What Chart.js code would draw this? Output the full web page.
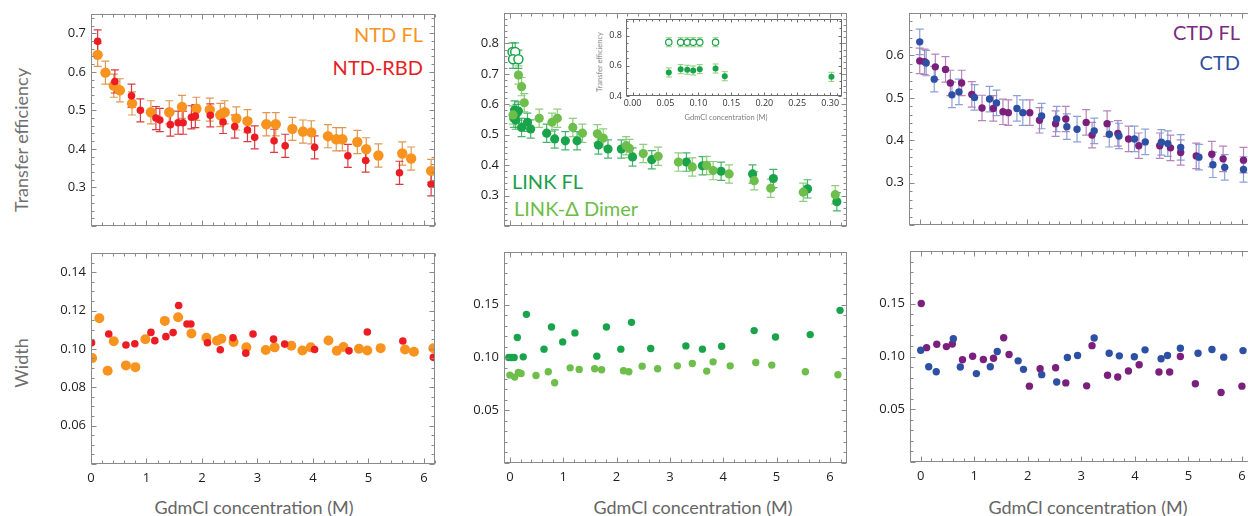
<!DOCTYPE html>
<html>
<head>
<meta charset="utf-8">
<script src="https://cdn.jsdelivr.net/npm/chart.js@4.4.1/dist/chart.umd.min.js"></script>
<style>
  html, body { margin: 0; padding: 0; background: #fff; }
  body { width: 1248px; height: 516px; overflow: hidden; position: relative; font-family: Lato, "Open Sans", sans-serif; }
  canvas { position: absolute; }
  .lbl { position: absolute; white-space: nowrap; line-height: 1; }
  .ytitle { font-size: 18px; color: #707070; transform: translate(-50%, -50%) rotate(-90deg); }
  .xtitle { font-size: 18px; color: #666; transform: translate(-50%, -50%); }
  .key { font-size: 20px; transform: translateY(-50%); }
  .small { font-size: 7.5px; color: #808080; }
</style>
</head>
<body>
<div class="lbl ytitle" style="left:21px; top:140px;">Transfer efficiency</div>
<div class="lbl ytitle" style="left:21px; top:363px;">Width</div>
<div class="lbl xtitle" style="left:254px; top:507px;">GdmCl concentration (M)</div>
<div class="lbl xtitle" style="left:693px; top:507px;">GdmCl concentration (M)</div>
<div class="lbl xtitle" style="left:1088px; top:507px;">GdmCl concentration (M)</div>

<div class="lbl key" style="right:825px; top:34px; color:#F7941D;">NTD FL</div>
<div class="lbl key" style="right:825px; top:67px; color:#E31E24;">NTD-RBD</div>
<div class="lbl key" style="left:512px; top:181px; color:#1A9F4A;">LINK FL</div>
<div class="lbl key" style="left:514px; top:208px; color:#6CBD45;">LINK-Δ Dimer</div>
<div class="lbl key" style="right:8px; top:32px; color:#7B2A80;">CTD FL</div>
<div class="lbl key" style="right:8px; top:62px; color:#2E50A4;">CTD</div>

<script>
// ---------- tick label values ----------
const xTicks = [0, 1, 2, 3, 4, 5, 6];
const teTicksNtd = [0.3, 0.4, 0.5, 0.6, 0.7];
const teTicksLink = [0.3, 0.4, 0.5, 0.6, 0.7, 0.8];
const teTicksCtd = [0.3, 0.4, 0.5, 0.6];
const wTicksNtd = [0.06, 0.08, 0.10, 0.12, 0.14];
const wTicksLinkCtd = [0.05, 0.10, 0.15];
const insetXTicks = [0, 0.05, 0.10, 0.15, 0.20, 0.25, 0.30];
const insetYTicks = [0.4, 0.6, 0.8];

// ---------- NTD: transfer efficiency ----------
const ntdFlTeX = [0.12, 0.26, 0.41, 0.52, 0.74, 1.08, 1.41, 1.64, 1.90, 2.14, 2.33, 2.41, 2.62, 2.82, 3.16, 3.33, 3.63, 3.82, 3.97, 4.27, 4.42, 4.53, 4.80, 4.96, 5.18, 5.61, 5.77, 6.13];
const ntdFlTeY = [0.644, 0.598, 0.564, 0.552, 0.518, 0.495, 0.495, 0.509, 0.504, 0.502, 0.488, 0.495, 0.479, 0.472, 0.464, 0.464, 0.452, 0.445, 0.443, 0.433, 0.425, 0.425, 0.418, 0.399, 0.383, 0.388, 0.375, 0.343];
const ntdRbdTeX = [0.12, 0.43, 0.73, 0.89, 1.17, 1.24, 1.43, 1.57, 1.66, 1.81, 1.88, 2.15, 2.38, 2.59, 2.82, 2.95, 3.30, 3.50, 4.03, 4.63, 4.95, 5.56, 6.13];
const ntdRbdTeY = [0.679, 0.575, 0.538, 0.500, 0.480, 0.475, 0.463, 0.468, 0.468, 0.482, 0.485, 0.487, 0.470, 0.458, 0.449, 0.430, 0.421, 0.408, 0.404, 0.382, 0.370, 0.338, 0.308];

// ---------- NTD: width ----------
const ntdFlWX = [0.02, 0.15, 0.30, 0.41, 0.63, 0.80, 0.98, 1.33, 1.57, 1.81, 2.08, 2.27, 2.35, 2.57, 2.80, 3.15, 3.31, 3.61, 3.81, 3.96, 4.28, 4.43, 4.55, 4.83, 4.98, 5.22, 5.66, 5.82, 6.17];
const ntdFlWY = [0.0952, 0.1160, 0.0886, 0.1040, 0.0914, 0.0905, 0.1050, 0.1146, 0.1165, 0.1080, 0.1058, 0.1043, 0.1053, 0.1036, 0.1008, 0.0994, 0.1008, 0.1017, 0.0992, 0.1008, 0.1044, 0.0990, 0.1010, 0.1001, 0.0992, 0.1004, 0.0997, 0.0985, 0.1003];
const ntdRbdWX = [0.01, 0.32, 0.63, 0.79, 1.08, 1.15, 1.35, 1.48, 1.58, 1.73, 1.80, 2.10, 2.33, 2.56, 2.79, 2.92, 3.29, 3.49, 4.03, 4.65, 4.98, 5.62, 6.17];
const ntdRbdWY = [0.1032, 0.1078, 0.1020, 0.1027, 0.1086, 0.1043, 0.1064, 0.1085, 0.1226, 0.1130, 0.1130, 0.1032, 0.0996, 0.1058, 0.0978, 0.1078, 0.1051, 0.1025, 0.0997, 0.0990, 0.1088, 0.1041, 0.0956];

// ---------- LINK: transfer efficiency ----------
const linkFlTeX = [0.075, 0.09, 0.11, 0.125, 0.16, 0.22, 0.33, 0.39, 0.69, 0.84, 1.04, 1.26, 1.66, 1.84, 2.09, 2.30, 2.66, 3.31, 3.61, 3.96, 4.55, 4.94, 5.58, 6.13];
const linkFlTeY = [0.554, 0.581, 0.548, 0.570, 0.578, 0.524, 0.541, 0.519, 0.505, 0.486, 0.480, 0.480, 0.466, 0.453, 0.453, 0.427, 0.418, 0.410, 0.398, 0.380, 0.371, 0.356, 0.322, 0.280];
const linkDimerTeX = [0.06, 0.16, 0.22, 0.27, 0.55, 0.79, 0.89, 1.18, 1.36, 1.64, 1.75, 2.18, 2.24, 2.50, 2.78, 3.16, 3.42, 3.69, 3.81, 4.11, 4.58, 4.89, 5.50, 6.10];
const linkDimerTeY = [0.565, 0.696, 0.658, 0.605, 0.554, 0.541, 0.554, 0.524, 0.505, 0.503, 0.489, 0.464, 0.455, 0.438, 0.429, 0.410, 0.394, 0.399, 0.382, 0.371, 0.349, 0.324, 0.311, 0.303];
const linkOpenTeX = [0.05, 0.10, 0.06, 0.16];
const linkOpenTeY = [0.772, 0.772, 0.748, 0.748];

// ---------- LINK: width ----------
const linkFlWX = [-0.02, 0.03, 0.08, 0.14, 0.25, 0.31, 0.64, 0.78, 0.99, 1.22, 1.63, 1.81, 2.08, 2.28, 2.64, 3.30, 3.61, 3.97, 4.58, 4.98, 5.63, 6.19];
const linkFlWY = [0.100, 0.100, 0.100, 0.119, 0.1006, 0.1409, 0.1079, 0.1289, 0.1148, 0.1233, 0.1013, 0.1289, 0.1079, 0.1333, 0.1085, 0.1110, 0.1079, 0.1107, 0.1255, 0.1195, 0.1217, 0.1447];
const linkDimerWX = [0.00, 0.09, 0.16, 0.21, 0.49, 0.72, 0.84, 1.13, 1.30, 1.59, 1.72, 2.13, 2.23, 2.48, 2.77, 3.14, 3.42, 3.69, 3.81, 4.13, 4.61, 4.91, 5.54, 6.15];
const linkDimerWY = [0.0833, 0.0814, 0.0858, 0.0849, 0.0830, 0.0865, 0.0761, 0.0902, 0.0887, 0.0893, 0.0884, 0.0874, 0.0865, 0.0918, 0.0893, 0.0921, 0.0943, 0.0871, 0.0959, 0.0921, 0.0953, 0.0928, 0.0865, 0.0836];

// ---------- LINK inset (low denaturant) ----------
const insetOpenX = [0.055, 0.073, 0.083, 0.092, 0.102, 0.126];
const insetOpenY = [0.756, 0.756, 0.756, 0.756, 0.756, 0.756];
const insetFillX = [0.055, 0.073, 0.083, 0.092, 0.102, 0.126, 0.140, 0.302];
const insetFillY = [0.556, 0.578, 0.574, 0.569, 0.578, 0.582, 0.531, 0.527];

// ---------- CTD: transfer efficiency ----------
const ctdFlTeX = [0.00, 0.09, 0.29, 0.48, 0.57, 0.78, 0.97, 1.16, 1.37, 1.55, 1.65, 2.05, 2.23, 2.53, 2.72, 3.10, 3.21, 3.49, 3.69, 3.89, 4.08, 4.47, 4.67, 4.86, 5.15, 5.44, 5.65, 6.03];
const ctdFlTeY = [0.587, 0.585, 0.573, 0.567, 0.535, 0.535, 0.508, 0.476, 0.475, 0.467, 0.465, 0.465, 0.447, 0.439, 0.450, 0.442, 0.412, 0.439, 0.416, 0.403, 0.387, 0.387, 0.382, 0.371, 0.363, 0.367, 0.356, 0.353];
const ctdTeX = [0.00, 0.12, 0.27, 0.60, 0.73, 1.02, 1.30, 1.43, 1.81, 1.92, 2.27, 2.55, 2.74, 2.93, 3.25, 3.53, 3.71, 4.00, 4.20, 4.50, 4.62, 4.86, 5.20, 5.46, 5.68, 6.03];
const ctdTeY = [0.632, 0.582, 0.544, 0.507, 0.514, 0.501, 0.497, 0.488, 0.475, 0.465, 0.457, 0.450, 0.432, 0.426, 0.422, 0.414, 0.410, 0.403, 0.396, 0.395, 0.392, 0.383, 0.360, 0.342, 0.336, 0.331];

// ---------- CTD: width ----------
const ctdFlWX = [0.01, 0.11, 0.30, 0.48, 0.59, 0.78, 0.97, 1.17, 1.36, 1.55, 1.65, 2.03, 2.23, 2.52, 2.71, 3.10, 3.20, 3.49, 3.68, 3.88, 4.08, 4.45, 4.65, 4.85, 5.13, 5.61, 6.00];
const ctdFlWY = [0.1503, 0.1084, 0.1116, 0.1094, 0.1119, 0.0969, 0.1003, 0.0972, 0.0984, 0.1178, 0.1019, 0.0719, 0.0884, 0.0894, 0.0750, 0.0722, 0.1103, 0.0822, 0.0806, 0.0863, 0.0922, 0.0853, 0.0853, 0.1000, 0.0741, 0.0659, 0.0719];
const ctdWX = [0.00, 0.15, 0.29, 0.61, 0.74, 1.04, 1.30, 1.43, 1.82, 1.92, 2.26, 2.54, 2.74, 2.93, 3.24, 3.52, 3.71, 3.99, 4.19, 4.49, 4.61, 4.85, 5.18, 5.44, 5.66, 6.02];
const ctdWY = [0.1059, 0.0903, 0.0856, 0.1169, 0.0900, 0.0838, 0.0903, 0.1047, 0.0959, 0.0878, 0.0828, 0.0759, 0.0991, 0.1010, 0.1175, 0.1031, 0.1006, 0.0997, 0.1063, 0.0978, 0.1009, 0.1078, 0.1031, 0.1066, 0.0994, 0.1056];

// Error bar half-width shared by the transfer-efficiency series
const teErr = 0.03;

// ---------- colours ----------
const C = {
  orange: '#F7931E', orangeErr: 'rgba(222,140,62,0.9)',
  red: '#EC1C24', redErr: 'rgba(214,38,46,0.9)',
  dkGreen: '#19A34A', dkGreenErr: 'rgba(40,166,82,0.85)',
  ltGreen: '#6DBE4B', ltGreenErr: 'rgba(130,200,110,0.9)',
  purple: '#7B1F7D', purpleErr: 'rgba(170,110,175,0.85)',
  blue: '#2E50A4', blueErr: 'rgba(120,145,205,0.85)',
  frame: '#8a8a8a'
};

const pts = (xs, ys) => xs.map((x, i) => ({ x, y: ys[i] }));

// Frame around the plot area with inward major/minor ticks on all four sides
const frameTicks = {
  id: 'frameTicks',
  beforeDraw(chart, args, o) {
    if (!o.fill) return;
    const a = chart.chartArea, ctx = chart.ctx;
    ctx.save(); ctx.fillStyle = o.fill;
    ctx.fillRect(a.left, a.top, a.right - a.left, a.bottom - a.top);
    ctx.restore();
  },
  afterDraw(chart, args, o) {
    const { ctx, chartArea: a, scales } = chart;
    ctx.save();
    ctx.strokeStyle = o.color; ctx.lineWidth = 1;
    const L = Math.round(a.left) + 0.5, R = Math.round(a.right) - 0.5;
    const T = Math.round(a.top) + 0.5, B = Math.round(a.bottom) - 0.5;
    ctx.strokeRect(L, T, R - L, B - T);
    const seg = (x1, y1, x2, y2) => { ctx.moveTo(x1, y1); ctx.lineTo(x2, y2); };
    ctx.beginPath();
    const walk = (scale, major, minor, horiz) => {
      const n0 = Math.ceil(scale.min / minor - 1e-6), n1 = Math.floor(scale.max / minor + 1e-6);
      for (let i = n0; i <= n1; i++) {
        const v = i * minor, r = v / major;
        const len = Math.abs(r - Math.round(r)) < 1e-6 ? o.major : o.minor;
        const p = Math.round(scale.getPixelForValue(v)) + 0.5;
        if (horiz) { seg(p, B, p, B - len); seg(p, T, p, T + len); }
        else { seg(L, p, L + len, p); seg(R, p, R - len, p); }
      }
    };
    walk(scales.x, o.xMajor, o.xMinor, true);
    walk(scales.y, o.yMajor, o.yMinor, false);
    ctx.stroke();
    ctx.restore();
  }
};

// Vertical error bars with caps, drawn under the markers
const errorBars = {
  id: 'errorBars',
  beforeDatasetsDraw(chart) {
    const { ctx, chartArea: a, scales: { x, y } } = chart;
    ctx.save();
    ctx.beginPath(); ctx.rect(a.left, a.top, a.right - a.left, a.bottom - a.top); ctx.clip();
    chart.data.datasets.slice().reverse().forEach(ds => {
      if (!ds.yErr) return;
      ctx.strokeStyle = ds.errColor; ctx.lineWidth = ds.errWidth || 1.2;
      const cw = ds.capW || 4;
      ds.data.forEach(p => {
        const px = x.getPixelForValue(p.x);
        const y1 = y.getPixelForValue(p.y + ds.yErr), y2 = y.getPixelForValue(p.y - ds.yErr);
        ctx.beginPath();
        ctx.moveTo(px, y1); ctx.lineTo(px, y2);
        ctx.moveTo(px - cw, y1); ctx.lineTo(px + cw, y1);
        ctx.moveTo(px - cw, y2); ctx.lineTo(px + cw, y2);
        ctx.stroke();
      });
    });
    ctx.restore();
  }
};

function series(xs, ys, color, r, err, errColor, extra) {
  return Object.assign({
    data: pts(xs, ys), backgroundColor: color, borderColor: color, borderWidth: 0,
    pointRadius: r, pointHoverRadius: r, clip: 0,
    yErr: err || 0, errColor: errColor
  }, extra || {});
}

// Place a canvas so its plot area lands on `area`, then build the chart
function panel(p) {
  const L = p.L ?? 46, T = p.T ?? 12, R = p.R ?? 16, B = p.B ?? 28;
  const cv = document.createElement('canvas');
  const w = (p.area.right - p.area.left) + L + R, h = (p.area.bottom - p.area.top) + T + B;
  cv.width = w; cv.height = h;
  cv.style.left = (p.area.left - L) + 'px'; cv.style.top = (p.area.top - T) + 'px';
  cv.style.width = w + 'px'; cv.style.height = h + 'px';
  document.body.appendChild(cv);
  const font = { family: p.tickFamily || '"Open Sans", Lato, sans-serif', size: p.tickSize || 13 };
  return new Chart(cv, {
    type: 'scatter',
    data: { datasets: p.datasets },
    options: {
      responsive: false, animation: false, events: [], devicePixelRatio: 1,
      layout: { padding: { left: 0, top: T, right: R, bottom: 0 } },
      plugins: {
        legend: { display: false }, tooltip: { enabled: false },
        frameTicks: Object.assign({ color: C.frame, major: 5, minor: 3 }, p.frame)
      },
      scales: {
        x: {
          type: 'linear', min: p.xMin, max: p.xMax,
          grid: { display: false, drawTicks: false }, border: { display: false },
          ticks: { display: p.showX !== false, padding: p.xPad ?? 6, font, color: p.tickColor || '#1e1e1e',
                   maxRotation: 0, autoSkip: false, callback: v => Number(v).toFixed(p.xDigits ?? 0) },
          afterBuildTicks: s => { s.ticks = p.xTicks.map(v => ({ value: v })); },
          afterFit: s => { s.height = B; s.paddingLeft = 0; s.paddingRight = 0; }
        },
        y: {
          type: 'linear', min: p.yMin, max: p.yMax,
          grid: { display: false, drawTicks: false }, border: { display: false },
          ticks: { padding: p.yPad ?? 5, font, color: p.tickColor || '#1e1e1e', autoSkip: false,
                   callback: v => Number(v).toFixed(p.yDigits ?? 1) },
          afterBuildTicks: s => { s.ticks = p.yTicks.map(v => ({ value: v })); },
          afterFit: s => { s.width = L; s.paddingTop = 0; s.paddingBottom = 0; }
        }
      }
    },
    plugins: [frameTicks, errorBars]
  });
}

// ---- NTD column ----
panel({
  area: { left: 91, top: 14, right: 435, bottom: 226 },
  xMin: 0, xMax: 6.2, yMin: 0.2, yMax: 0.75, xTicks, yTicks: teTicksNtd, yDigits: 1, showX: false,
  frame: { xMajor: 1, xMinor: 0.2, yMajor: 0.1, yMinor: 0.02 },
  datasets: [
    series(ntdRbdTeX, ntdRbdTeY, C.red, 3.8, teErr, C.redErr),
    series(ntdFlTeX, ntdFlTeY, C.orange, 5.2, teErr, C.orangeErr)
  ]
});
panel({
  area: { left: 91, top: 253, right: 435, bottom: 464 },
  xMin: 0, xMax: 6.2, yMin: 0.04, yMax: 0.15, xTicks, yTicks: wTicksNtd, yDigits: 2,
  frame: { xMajor: 1, xMinor: 0.2, yMajor: 0.02, yMinor: 0.005 },
  datasets: [
    series(ntdRbdWX, ntdRbdWY, C.red, 3.8),
    series(ntdFlWX, ntdFlWY, C.orange, 5)
  ]
});

// ---- LINK column ----
panel({
  area: { left: 504, top: 13, right: 847, bottom: 226 },
  xMin: -0.11, xMax: 6.32, yMin: 0.2, yMax: 0.9, xTicks, yTicks: teTicksLink, yDigits: 1, showX: false,
  frame: { xMajor: 1, xMinor: 0.2, yMajor: 0.1, yMinor: 0.02 },
  datasets: [
    series(linkOpenTeX, linkOpenTeY, '#ffffff', 4.5, teErr, C.dkGreenErr, { borderColor: C.dkGreen, borderWidth: 1.5 }),
    series(linkDimerTeX, linkDimerTeY, C.ltGreen, 4.6, teErr, C.ltGreenErr),
    series(linkFlTeX, linkFlTeY, C.dkGreen, 4.6, teErr, C.dkGreenErr)
  ]
});
panel({
  area: { left: 504, top: 252, right: 847, bottom: 463 },
  xMin: -0.11, xMax: 6.32, yMin: 0, yMax: 0.2, xTicks, yTicks: wTicksLinkCtd, yDigits: 2,
  frame: { xMajor: 1, xMinor: 0.2, yMajor: 0.05, yMinor: 0.01 },
  datasets: [
    series(linkFlWX, linkFlWY, C.dkGreen, 3.7),
    series(linkDimerWX, linkDimerWY, C.ltGreen, 3.7)
  ]
});

// ---- CTD column ----
panel({
  area: { left: 909, top: 13, right: 1258, bottom: 225 },
  xMin: -0.2, xMax: 6.3, yMin: 0.2, yMax: 0.7, xTicks, yTicks: teTicksCtd, yDigits: 1, showX: false,
  frame: { xMajor: 1, xMinor: 0.2, yMajor: 0.1, yMinor: 0.02 },
  datasets: [
    series(ctdTeX, ctdTeY, C.blue, 3.7, teErr, C.blueErr),
    series(ctdFlTeX, ctdFlTeY, C.purple, 3.7, teErr, C.purpleErr)
  ]
});
panel({
  area: { left: 910, top: 251, right: 1258, bottom: 462 },
  xMin: -0.2, xMax: 6.3, yMin: 0, yMax: 0.2, xTicks, yTicks: wTicksLinkCtd, yDigits: 2,
  frame: { xMajor: 1, xMinor: 0.2, yMajor: 0.05, yMinor: 0.01 },
  datasets: [
    series(ctdWX, ctdWY, C.blue, 3.7),
    series(ctdFlWX, ctdFlWY, C.purple, 3.7)
  ]
});

// ---- LINK inset: low-denaturant region ----
panel({
  area: { left: 626, top: 19, right: 842, bottom: 96 },
  L: 26, T: 6, R: 6, B: 14,
  xMin: -0.01, xMax: 0.318, yMin: 0.4, yMax: 0.91,
  xTicks: insetXTicks, yTicks: insetYTicks, xDigits: 2, yDigits: 1,
  tickSize: 9, tickColor: '#333', xPad: 2, yPad: 4,
  frame: { xMajor: 0.05, xMinor: 0.01, yMajor: 0.2, yMinor: 0.05, major: 3, minor: 2, color: '#6a6a6a', fill: '#ffffff' },
  datasets: [
    series(insetOpenX, insetOpenY, '#ffffff', 3.2, teErr, C.ltGreenErr, { borderColor: C.dkGreen, borderWidth: 1.2, capW: 3, errWidth: 1 }),
    series(insetFillX, insetFillY, C.dkGreen, 3, teErr, C.ltGreenErr, { capW: 3, errWidth: 1 })
  ]
});
</script>
<div class="lbl small" style="left:600px; top:62px; transform:translate(-50%,-50%) rotate(-90deg);">Transfer efficiency</div>
<div class="lbl small" style="left:726px; top:118px; transform:translate(-50%,-50%);">GdmCl concentration (M)</div>
</body>
</html>
